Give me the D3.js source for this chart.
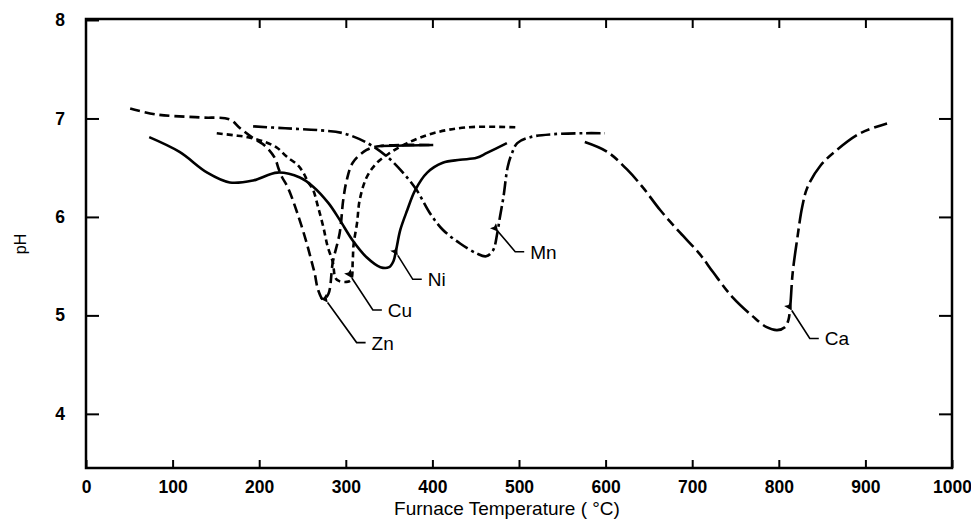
<!DOCTYPE html>
<html>
<head>
<meta charset="utf-8">
<script src="https://cdn.jsdelivr.net/npm/d3@7/dist/d3.min.js"></script>
<style>
  body { margin: 0; background: #fff; }
  svg text { font-family: "Liberation Sans", Arial, sans-serif; fill: #000; }
</style>
</head>
<body>
<svg id="chart" width="971" height="519"></svg>
<script>
// tick labels
var xTicks = [0, 100, 200, 300, 400, 500, 600, 700, 800, 900, 1000];
var yTicks = [4, 5, 6, 7, 8];

// Zn
var znT  = [51, 82, 132, 166, 178, 193, 207, 218, 222, 226, 233, 244, 255, 261, 264, 268, 274, 280, 285, 293, 297, 301, 308, 324, 340, 401];
var znPH = [7.10, 7.04, 7.01, 6.99, 6.90, 6.80, 6.72, 6.60, 6.50, 6.41, 6.30, 6.04, 5.73, 5.53, 5.43, 5.26, 5.16, 5.22, 5.54, 5.84, 6.17, 6.37, 6.55, 6.68, 6.72, 6.73];
// Cu
var cuT  = [151, 170, 187, 207, 221, 232, 244, 251, 256, 262, 268, 274, 279, 285, 288, 292, 301, 306, 308, 309, 313, 316, 324, 336, 351, 371, 401, 440, 498];
var cuPH = [6.85, 6.83, 6.81, 6.76, 6.70, 6.61, 6.53, 6.45, 6.36, 6.28, 6.10, 5.90, 5.70, 5.54, 5.38, 5.35, 5.34, 5.36, 5.55, 5.72, 5.94, 6.17, 6.40, 6.55, 6.65, 6.75, 6.85, 6.91, 6.91];
// Ni
var niT  = [73, 108, 140, 166, 193, 221, 247, 262, 280, 293, 308, 324, 340, 350, 355, 358, 363, 371, 380, 394, 412, 432, 451, 463, 486];
var niPH = [6.81, 6.66, 6.45, 6.35, 6.37, 6.45, 6.40, 6.31, 6.14, 5.97, 5.76, 5.59, 5.49, 5.49, 5.55, 5.66, 5.87, 6.07, 6.27, 6.45, 6.55, 6.58, 6.60, 6.65, 6.75];
// Mn
var mnT  = [193, 230, 270, 297, 325, 348, 366, 382, 397, 412, 432, 451, 462, 470, 475, 478, 482, 487, 492, 498, 513, 539, 574, 599];
var mnPH = [6.92, 6.90, 6.88, 6.85, 6.75, 6.61, 6.45, 6.27, 6.04, 5.87, 5.73, 5.63, 5.60, 5.66, 5.84, 6.00, 6.20, 6.51, 6.65, 6.75, 6.81, 6.84, 6.85, 6.85];
// Ca
var caT  = [576, 602, 625, 643, 663, 686, 709, 724, 747, 770, 786, 798, 807, 811, 813, 816, 821, 827, 833, 848, 867, 894, 925];
var caPH = [6.76, 6.66, 6.48, 6.30, 6.07, 5.84, 5.62, 5.44, 5.18, 4.99, 4.88, 4.85, 4.88, 4.95, 5.07, 5.43, 5.76, 6.10, 6.30, 6.52, 6.68, 6.85, 6.95];

// labels and the curve point each arrow points at
var names   = ["Zn", "Cu", "Ni", "Mn", "Ca"];
var arrowT  = [279, 307, 360, 476, 815];
var arrowPH = [5.13, 5.38, 5.61, 5.85, 5.05];

// styles / layout
var dashes = ["10,5", "6,4", null, "14,4,3,4", "24,5,9,5"];
var solidTail = [2, 0, 0, 0, 0]; // last n points drawn solid (Zn ends in a solid run)
var leaderDrop = [40, 32, 24, 20, 28];
var leaderRun  = [29, 21, 15, 17, 18];

var svg = d3.select("#chart");
var plotL = 86, plotR = 952, plotT = 20, plotB = 468;

var x = d3.scaleLinear().domain([0, 1000]).range([plotL, plotR]);
var y = d3.scaleLinear().domain([3.45, 8]).range([plotB, plotT]);

// arrow head
svg.append("defs").append("marker")
  .attr("id", "head")
  .attr("viewBox", "0 0 10 10")
  .attr("refX", 0).attr("refY", 5)
  .attr("markerWidth", 11).attr("markerHeight", 8)
  .attr("markerUnits", "userSpaceOnUse")
  .attr("orient", "auto-start-reverse")
  .append("path").attr("d", "M0,5 L10,0 L8,5 L10,10 Z").attr("fill", "#000");

// axes (inward ticks)
var gx = svg.append("g")
  .attr("transform", "translate(0," + plotB + ")")
  .call(d3.axisBottom(x).tickValues(xTicks).tickSizeInner(-8).tickSizeOuter(0).tickPadding(13).tickFormat(d3.format("d")));
var gxTop = svg.append("g")
  .attr("transform", "translate(0," + plotT + ")")
  .call(d3.axisTop(x).tickValues(xTicks.slice(2, -1)).tickSizeInner(-8).tickSizeOuter(0).tickFormat(""));
var gy = svg.append("g")
  .attr("transform", "translate(" + plotL + ",0)")
  .call(d3.axisLeft(y).tickValues(yTicks).tickSizeInner(-13).tickSizeOuter(0).tickPadding(21).tickFormat(d3.format("d")));
var gyR = svg.append("g")
  .attr("transform", "translate(" + plotR + ",0)")
  .call(d3.axisRight(y).tickValues(yTicks.slice(0, -1)).tickSizeInner(-13).tickSizeOuter(0).tickFormat(""));

[gx, gxTop, gy, gyR].forEach(function(g) {
  g.select(".domain").remove();
  g.selectAll(".tick line").attr("stroke", "#000").attr("stroke-width", 2);
  g.selectAll(".tick text").attr("font-size", 17.5).attr("font-weight", "bold");
});

// frame
svg.append("rect")
  .attr("x", plotL).attr("y", plotT - 1)
  .attr("width", plotR - plotL).attr("height", plotB - plotT + 1)
  .attr("fill", "none").attr("stroke", "#000").attr("stroke-width", 2.5);

// axis titles
svg.append("text")
  .attr("x", 507).attr("y", 515)
  .attr("text-anchor", "middle").attr("font-size", 19)
  .text("Furnace Temperature ( °C)");
svg.append("text")
  .attr("transform", "translate(26,244) rotate(-90)")
  .attr("text-anchor", "middle").attr("font-size", 16)
  .text("pH");

// curves
var series = [[znT, znPH], [cuT, cuPH], [niT, niPH], [mnT, mnPH], [caT, caPH]];
var line = d3.line()
  .x(function(d) { return x(d[0]); })
  .y(function(d) { return y(d[1]); })
  .curve(d3.curveCatmullRom.alpha(0.5));

series.forEach(function(s, i) {
  var pts = s[0].map(function(t, j) { return [t, s[1][j]]; });
  svg.append("path")
    .datum(pts)
    .attr("d", line)
    .attr("fill", "none")
    .attr("stroke", "#000")
    .attr("stroke-width", 2.6)
    .attr("stroke-linecap", "butt")
    .attr("stroke-dasharray", dashes[i]);
  if (solidTail[i] > 0) {
    svg.append("path")
      .datum(pts.slice(-solidTail[i]))
      .attr("d", line)
      .attr("fill", "none")
      .attr("stroke", "#000")
      .attr("stroke-width", 2.6);
  }
});

// leaders + labels
names.forEach(function(n, i) {
  var px = x(arrowT[i]), py = y(arrowPH[i]);
  var ex = px + leaderRun[i], ey = py + leaderDrop[i];
  svg.append("path")
    .attr("d", "M" + px + "," + py + " L" + ex + "," + ey + " L" + (ex + 9) + "," + ey)
    .attr("fill", "none").attr("stroke", "#000").attr("stroke-width", 1.6)
    .attr("marker-start", "url(#head)");
  svg.append("text")
    .attr("x", ex + 15).attr("y", ey + 7)
    .attr("font-size", 19)
    .text(n);
});
</script>
</body>
</html>
